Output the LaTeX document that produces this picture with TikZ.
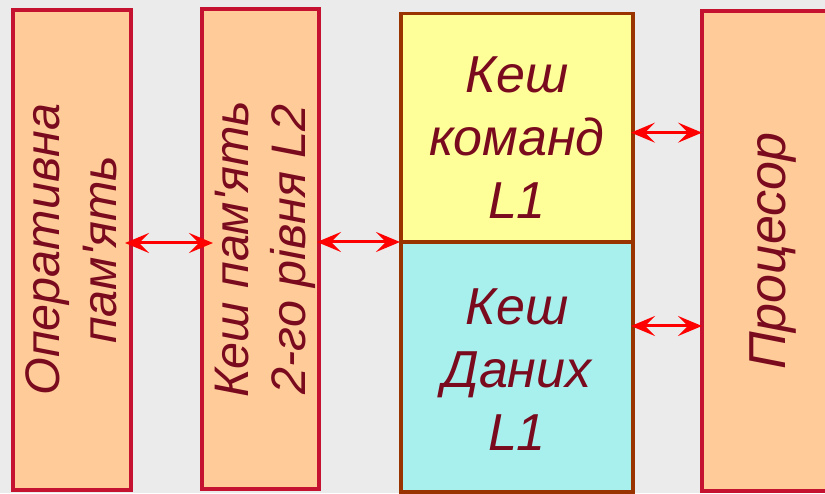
\documentclass[tikz,border=0pt]{standalone}
\usepackage{fontspec}
\setmainfont{Liberation Sans}
\usetikzlibrary{arrows.meta}

\definecolor{bgray}{HTML}{EBEBEB}
\definecolor{peach}{HTML}{FFCC99}
\definecolor{crimsonline}{HTML}{C41230}
\definecolor{brownline}{HTML}{993300}
\definecolor{lemon}{HTML}{FFFF99}
\definecolor{aqua}{HTML}{A8F0EE}
\definecolor{textred}{RGB}{122,10,30}
\definecolor{arrowred}{HTML}{FF0000}

\begin{document}
\begin{tikzpicture}[x=1pt, y=1pt,
	block/.style={draw=crimsonline, fill=peach, line width=4pt, inner sep=0pt, outer sep=0pt},
	lblock/.style={draw=brownline, line width=3.5pt, inner sep=0pt, outer sep=0pt, minimum width=232pt},
	bigtext/.style={text=textred, font=\fontsize{52}{63}\selectfont\itshape, align=center, inner sep=0pt},
	sidetext/.style={bigtext, rotate=90, font=\fontsize{48.5}{57}\selectfont\itshape},
	link/.style={draw=arrowred, line width=3pt, <->, >={Stealth[length=24pt, width=20pt, inset=10pt]}}]
	\useasboundingbox (0,0) rectangle (825,493);
	\clip (0,0) rectangle (825,493);
	\fill [bgray] (0,0) rectangle (825,493);

	\node [block, minimum width=118pt, minimum height=479.5pt] (ram) at (72,243.25) {};
	\node [block, minimum width=117pt, minimum height=479.5pt] (ltwo) at (260.5,243.75) {};
	\node [lblock, fill=lemon, minimum height=228.7pt] (lcmd) at (517,365.35) {};
	\node [lblock, fill=aqua, minimum height=250pt] (ldata) at (517,126) {};
	\node [block, minimum width=142pt, minimum height=479.7pt] (cpu) at (773,241.85) {};

	\node [sidetext] (ramtext) at ([xshift=-1pt]ram.center) {Оперативна\\пам\textquotesingle ять};
	\node [sidetext] (ltwotext) at ([xshift=5pt]ltwo.center) {Кеш пам\textquotesingle ять\\2-го рівня L2};
	\node [bigtext] (lcmdtext) at ([yshift=-9.5pt]lcmd.center) {Кеш\\команд\\L1};
	\node [bigtext] (ldatatext) at ([yshift=-2.5pt]ldata.center) {Кеш\\Даних\\L1};
	\node [bigtext, rotate=90] (cputext) at (cpu.center) {Процесор};

	\draw [link, shorten <=-6pt, shorten >=-11pt] ([yshift=6.75pt]ram.east) -- ([yshift=6.75pt]ram.east -| ltwo.west);
	\draw [link, shorten <=-2pt, shorten >=1pt] (ltwo.east |- lcmd.south west) -- (lcmd.south west);
	\draw [link, shorten <=-2pt] ([yshift=-5pt]lcmd.east) -- ([yshift=-5pt]lcmd.east -| cpu.west);
	\draw [link, shorten <=-2pt] ([yshift=41pt]ldata.east) -- ([yshift=41pt]ldata.east -| cpu.west);
\end{tikzpicture}
\end{document}
